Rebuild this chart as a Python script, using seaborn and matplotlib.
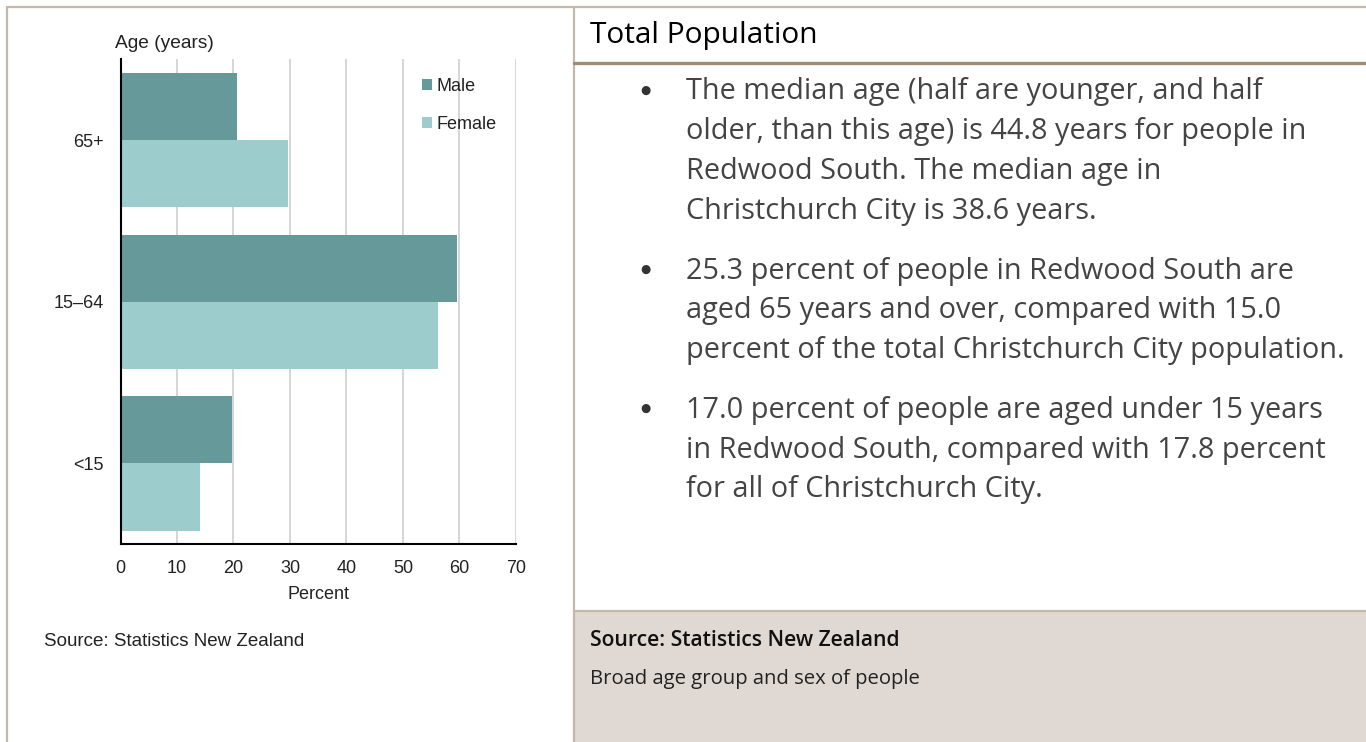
import matplotlib
matplotlib.use("Agg")
import matplotlib.pyplot as plt
import seaborn as sns
import pandas as pd
from matplotlib.lines import Line2D
from matplotlib.patches import Rectangle

# ---------------- data ----------------
age_groups = ["65+", "15–64", "<15"]
male_pct = [20.6, 59.6, 19.7]
female_pct = [29.6, 56.2, 14.1]
sexes = ["Male", "Female"]
x_ticks = [0, 10, 20, 30, 40, 50, 60, 70]

title_text = "Total Population"
paragraphs = [
    ["The median age (half are younger, and half",
     "older, than this age) is 44.8 years for people in",
     "Redwood South. The median age in",
     "Christchurch City is 38.6 years."],
    ["25.3 percent of people in Redwood South are",
     "aged 65 years and over, compared with 15.0",
     "percent of the total Christchurch City population."],
    ["17.0 percent of people are aged under 15 years",
     "in Redwood South, compared with 17.8 percent",
     "for all of Christchurch City."],
]
source_text = "Source: Statistics New Zealand"
caption_text = "Broad age group and sex of people"

# ---------------- styling ----------------
sns.set_theme(style="white")
plt.rcParams["font.family"] = ["Liberation Sans", "DejaVu Sans"]

W, H = 1366, 742
fig = plt.figure(figsize=(W / 100, H / 100), dpi=100)
fig.patch.set_facecolor("white")

def fx(px):
    return px / W

def fy(py):
    return 1 - py / H

MALE_C = "#669999"
FEMALE_C = "#9ccccc"
BORDER_C = "#c3b8ab"
RULE_C = "#a08c72"
LFS = 13

df = pd.DataFrame({
    "Age": age_groups * 2,
    "Percent": male_pct + female_pct,
    "Sex": [sexes[0]] * len(age_groups) + [sexes[1]] * len(age_groups),
})

ax_l, ax_r, ax_t, ax_b = 120.5, 516, 59.3, 544.3
ax = fig.add_axes([fx(ax_l), fy(ax_b), fx(ax_r - ax_l), (ax_b - ax_t) / H])
sns.barplot(data=df, y="Age", x="Percent", hue="Sex", order=age_groups,
            hue_order=sexes, palette=[MALE_C, FEMALE_C], orient="h",
            width=0.83, saturation=1, linewidth=0, ax=ax)
ax.set_xlim(0, 70)
ax.set_ylim(2.5, -0.5)
ax.set_xticks(x_ticks)
ax.set_xticklabels([str(t) for t in x_ticks])
ax.xaxis.grid(True, color="#d2d2d2", linewidth=1.3)
ax.yaxis.grid(False)
ax.set_axisbelow(True)
for s in ["top", "right"]:
    ax.spines[s].set_visible(False)
for s in ["left", "bottom"]:
    ax.spines[s].set_color("black")
    ax.spines[s].set_linewidth(1.5)
ax.tick_params(axis="both", length=0, labelsize=LFS, colors="#222222")
ax.tick_params(axis="y", pad=12)
ax.tick_params(axis="x", pad=11)
ax.set_ylabel("")
ax.set_xlabel("Percent", fontsize=LFS, color="#222222", labelpad=7)
ax.set_facecolor("white")

leg = ax.legend(loc="upper left", bbox_to_anchor=(fx(413), fy(69)),
                bbox_transform=fig.transFigure, frameon=False, fontsize=LFS,
                handlelength=0.55, handleheight=0.55, handletextpad=0.25,
                labelspacing=1.15, borderpad=0)
for t in leg.get_texts():
    t.set_color("#222222")

fig.text(fx(115), fy(43), "Age (years)", fontsize=13.8, color="#222222",
         ha="left", va="center")
fig.text(fx(44), fy(641), source_text, fontsize=13.5, color="#222222",
         ha="left", va="center")

# ---------------- layout frame ----------------
def hline(y, x0, x1, color, lw):
    fig.add_artist(Line2D([fx(x0), fx(x1)], [fy(y), fy(y)], color=color,
                          linewidth=lw, transform=fig.transFigure))

def vline(x, y0, y1, color, lw):
    fig.add_artist(Line2D([fx(x), fx(x)], [fy(y0), fy(y1)], color=color,
                          linewidth=lw, transform=fig.transFigure))

fig.add_artist(Rectangle((fx(574), 0), fx(W - 574), fy(611), facecolor="#e0d9d3",
                         edgecolor="none", transform=fig.transFigure, zorder=0))
hline(611, 574, W, BORDER_C, 1.6)
hline(7, 7, W, BORDER_C, 1.6)
vline(7, 7, H, BORDER_C, 1.6)
vline(574, 7, H, BORDER_C, 1.6)
hline(63, 574, W, RULE_C, 2.4)

RFONT = ["Open Sans", "DejaVu Sans"]
fig.text(fx(590), fy(36), title_text, fontsize=21.5, color="#000000",
         family=RFONT, ha="left", va="center", fontweight="medium")

line_gap = 39.7
para_gap = 60
y = 92
for para in paragraphs:
    fig.text(fx(645), fy(y - 2), "●", fontsize=8.5, color="#333333",
             family=["DejaVu Sans"], ha="center", va="center")
    for i, line in enumerate(para):
        fig.text(fx(686), fy(y + i * line_gap), line, fontsize=20.8,
                 color="#444444", family=RFONT, ha="left", va="center")
    y += (len(para) - 1) * line_gap + para_gap

fig.text(fx(590), fy(641), source_text, fontsize=15.2, color="#111111",
         family=RFONT, ha="left", va="center", fontweight="semibold")
fig.text(fx(590), fy(679), caption_text, fontsize=14.6, color="#222222",
         family=RFONT, ha="left", va="center")

fig.savefig("out.png", dpi=100, facecolor="white")
